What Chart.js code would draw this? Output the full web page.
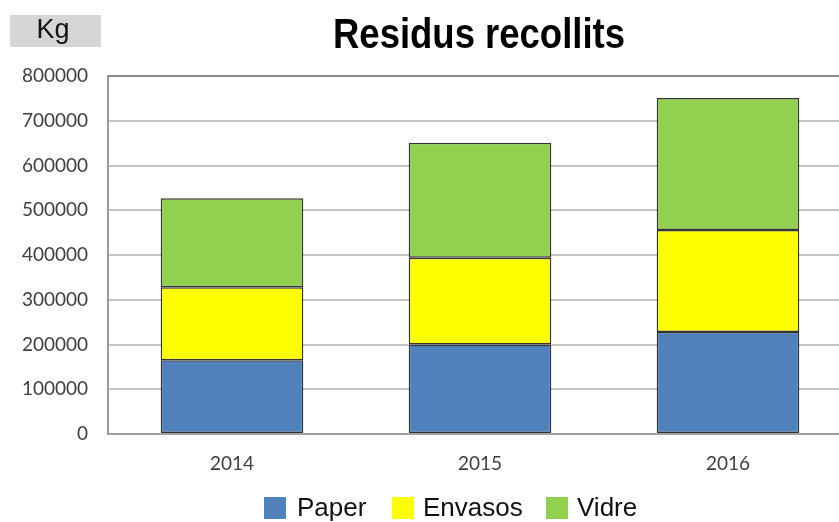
<!DOCTYPE html>
<html>
<head>
<meta charset="utf-8">
<script src="https://cdn.jsdelivr.net/npm/chart.js@4.4.1/dist/chart.umd.min.js"></script>
<style>
  html, body { margin: 0; padding: 0; background: #fff; overflow: hidden; width: 839px; height: 522px; }
  canvas { display: block; }
</style>
</head>
<body>
<canvas id="c" width="852" height="522"></canvas>
<script>
const categories = ['2014', '2015', '2016'];
const paper   = [165000, 200000, 228000];
const envasos = [163000, 194000, 228000];
const vidre   = [199000, 257000, 295000];
const yTicks  = [0, 100000, 200000, 300000, 400000, 500000, 600000, 700000, 800000];
const seriesNames = ['Paper', 'Envasos', 'Vidre'];
const titleText = 'Residus recollits';
const unitText = 'Kg';

const colors = ['#4f81bd', '#ffff00', '#92d050'];

const decor = {
  id: 'decor',
  afterDraw(chart) {
    const ctx = chart.ctx;
    ctx.save();
    // unit box
    ctx.fillStyle = '#d6d6d6';
    ctx.fillRect(10, 15, 91, 32);
    ctx.fillStyle = '#111';
    ctx.font = '27px "Liberation Sans", Arial, sans-serif';
    ctx.textAlign = 'center';
    ctx.textBaseline = 'middle';
    ctx.fillText(unitText, 53, 31);
    // title (condensed bold)
    ctx.font = 'bold 42px "Liberation Sans", Arial, sans-serif';
    const w = ctx.measureText(titleText).width;
    const target = 292;
    ctx.translate(479, 36);
    ctx.scale(target / w, 1);
    ctx.fillStyle = '#000';
    ctx.fillText(titleText, 0, 0);
    ctx.restore();
    // legend
    ctx.save();
    const boxX = [264, 392, 546];
    const textX = [297, 423, 577];
    ctx.font = '26px "Liberation Sans", Arial, sans-serif';
    ctx.textBaseline = 'middle';
    ctx.textAlign = 'left';
    chart.data.datasets.forEach((ds, i) => {
      ctx.fillStyle = ds.backgroundColor;
      ctx.fillRect(boxX[i], 497, 22, 22);
      ctx.fillStyle = '#111';
      ctx.fillText(ds.label, textX[i], 509);
    });
    ctx.restore();
  }
};

new Chart(document.getElementById('c'), {
  type: 'bar',
  data: {
    labels: categories,
    datasets: [
      { label: seriesNames[0], data: paper,   backgroundColor: colors[0] },
      { label: seriesNames[1], data: envasos, backgroundColor: colors[1] },
      { label: seriesNames[2], data: vidre,   backgroundColor: colors[2] }
    ].map(d => Object.assign(d, { borderColor: '#333333', borderWidth: 1.5, borderSkipped: false,
                                  categoryPercentage: 1, barPercentage: 0.575 }))
  },
  options: {
    responsive: false,
    animation: false,
    devicePixelRatio: 1,
    layout: { padding: { top: 76, left: 0, right: 0, bottom: 0 } },
    plugins: { legend: { display: false }, title: { display: false }, tooltip: { enabled: false } },
    scales: {
      x: {
        stacked: true,
        grid: { display: false, drawTicks: false },
        border: { display: true, color: '#a0a0a0', width: 2 },
        ticks: { color: '#404040', font: { family: 'Lato, "Open Sans", sans-serif', size: 19 }, padding: 18 },
        afterFit(s) { s.height = 88; }
      },
      y: {
        stacked: true,
        min: 0, max: 800000,
        afterBuildTicks(s) { s.ticks = yTicks.map(v => ({ value: v })); },
        grid: {
          drawTicks: false,
          color: c => (c.tick && c.tick.value === 800000) ? '#8a8a8a' : '#c4c4c4',
          lineWidth: 2
        },
        border: { display: true, color: '#9a9a9a', width: 2 },
        ticks: {
          color: '#404040',
          font: { family: 'Lato, "Open Sans", sans-serif', size: 19 },
          padding: 20,
          callback: v => String(v)
        },
        afterFit(s) { s.width = 108; }
      }
    }
  },
  plugins: [decor]
});
</script>
</body>
</html>
